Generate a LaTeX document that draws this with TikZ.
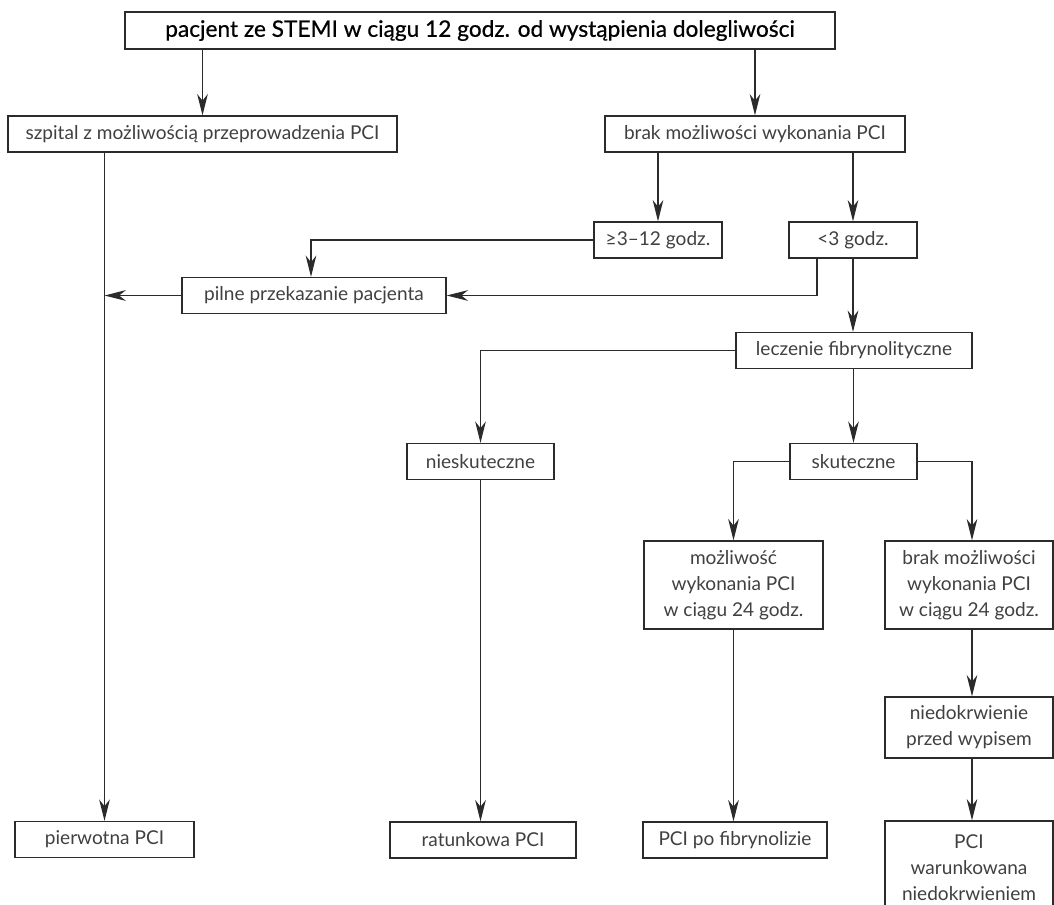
\documentclass[tikz,border=0pt]{standalone}
\usepackage{fontspec}
\setmainfont{Lato}
\usetikzlibrary{arrows.meta,calc}
\definecolor{lncol}{HTML}{2B2B2B}
\definecolor{txcol}{HTML}{404040}
\tikzset{
  bx/.style={draw=lncol, line width=1pt, text=txcol, font=\fontsize{14.3}{19.5}\selectfont,
    align=center, inner sep=0pt, minimum height=27pt},
  arr/.style={draw=lncol, line width=1pt, -{Stealth[length=16pt,width=8pt,inset=5pt]}},
  wire/.style={draw=lncol, line width=1pt},
}
\begin{document}
\begin{tikzpicture}[x=0.75pt,y=-0.75pt]
\clip (0,0) rectangle (1054,904);
\node[bx, minimum width=710*0.75pt, minimum height=37*0.75pt, text=black,
  font=\fontsize{17}{20}\selectfont\addfontfeatures{FakeBold=0.6}] (top) at (480,30.5)
  {pacjent ze STEMI w ciągu 12 godz. od wystąpienia dolegliwości};
\node[bx, minimum width=389*0.75pt] (szp) at (202.5,134) {szpital z możliwością przeprowadzenia PCI};
\node[bx, minimum width=300*0.75pt] (brak) at (755,134) {brak możliwości wykonania PCI};
\node[bx, minimum width=128*0.75pt] (ge) at (658,240) {≥3–12 godz.};
\node[bx, minimum width=128*0.75pt] (lt) at (853,240) {<3 godz.};
\node[bx, minimum width=264*0.75pt] (pil) at (314,295.5) {pilne przekazanie pacjenta};
\node[bx, minimum width=236*0.75pt] (lec) at (854,350.5) {leczenie fibrynolityczne};
\node[bx, minimum width=147*0.75pt] (nies) at (480.5,461.5) {nieskuteczne};
\node[bx, minimum width=127*0.75pt] (sku) at (853.5,461.5) {skuteczne};
\node[bx, minimum width=179*0.75pt, minimum height=88*0.75pt] (mozl) at (733.5,585)
  {możliwość\\wykonania PCI\\w ciągu 24 godz.};
\node[bx, minimum width=168*0.75pt, minimum height=88*0.75pt] (brak24) at (969,585)
  {brak możliwości\\wykonania PCI\\w ciągu 24 godz.};
\node[bx, minimum width=168*0.75pt, minimum height=61*0.75pt] (nied) at (969,727.5)
  {niedokrwienie\\przed wypisem};
\node[bx, minimum width=168*0.75pt, minimum height=94*0.75pt] (war) at (969,868)
  {PCI\\warunkowana\\niedokrwieniem};
\node[bx, minimum width=179*0.75pt] (pie) at (104.5,839.5) {pierwotna PCI};
\node[bx, minimum width=186*0.75pt] (rat) at (483,840) {ratunkowa PCI};
\node[bx, minimum width=184*0.75pt] (pof) at (735,840) {PCI po fibrynolizie};
% connectors
\draw[arr] (top.south -| szp.north) -- (szp.north);
\draw[arr] (top.south -| brak.north) -- (brak.north);
\draw[arr] (brak.south -| ge.north) -- (ge.north);
\draw[arr] (brak.south -| lt.north) -- (lt.north);
\draw[arr] (ge.west) -| ([xshift=-2.25pt]pil.north);
\draw[arr] ($(lt.south)+(-36,0)$) |- (pil.east);
\draw[arr] (szp.south -| pie.north) -- (pie.north);
\draw[arr] (pil.west) -- (pil.west -| pie.north);
\draw[arr] (lt.south) -- (lt.south |- lec.north);
\draw[arr] (lec.west) -| (nies.north);
\draw[arr] (lec.south -| sku.north) -- (sku.north);
\draw[arr] (sku.west) -| (mozl.north);
\draw[arr] (sku.east) -| ([xshift=2.25pt]brak24.north);
\draw[arr] (nies.south) -- (nies.south |- rat.north);
\draw[arr] (mozl.south) -- (mozl.south |- pof.north);
\draw[arr] ([xshift=2.25pt]brak24.south) -- ([xshift=2.25pt]nied.north);
\draw[arr] ([xshift=2.25pt]nied.south) -- ([xshift=2.25pt]war.north);
\end{tikzpicture}
\end{document}
